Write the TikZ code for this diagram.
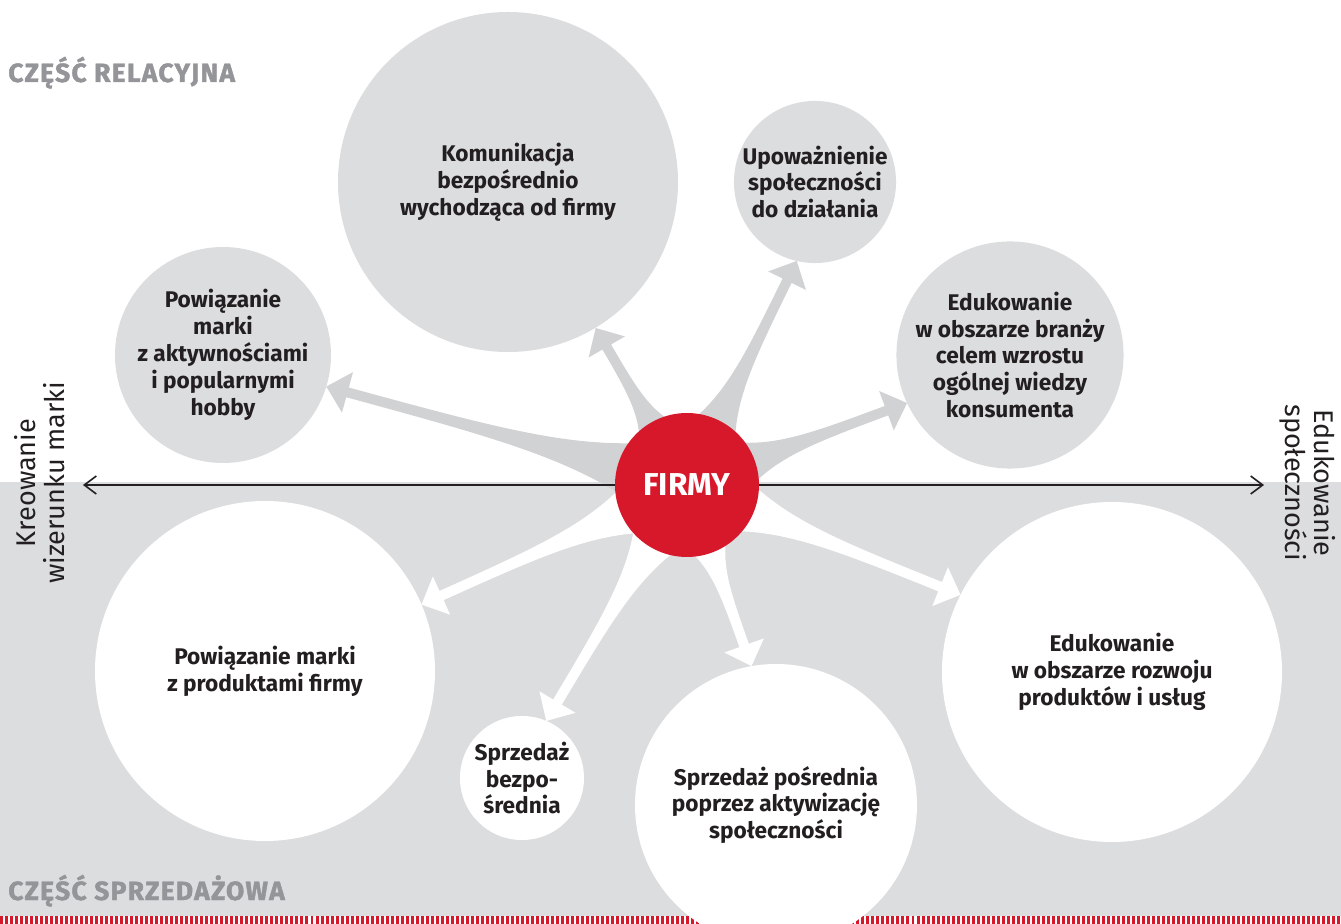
\documentclass[tikz,border=0pt]{standalone}
\usepackage{fontspec}
\setmainfont{Fira Sans}
\newfontfamily\titlefont{Fira Sans}[LetterSpace=5,BoldFeatures={FakeBold=1.6}]
\usepackage{tikz}
\usetikzlibrary{positioning,arrows.meta,calc}
\definecolor{brandRed}{HTML}{D7182A}
\definecolor{paleGray}{HTML}{DCDDDF}
\definecolor{wedgeGray}{HTML}{D1D2D4}
\definecolor{labelGray}{HTML}{939598}
\definecolor{inkBlack}{HTML}{231F20}

\pgfdeclarelayer{backdrop}
\pgfdeclarelayer{wedges}
\pgfsetlayers{backdrop,wedges,main}

% tapered arrow from the centre of #2 to the point #3, filled with #1
\newcommand{\wedgeArrow}[3]{%
  \coordinate (wedgeEnd) at (#3);
  \pgfpointdiff{\pgfpointanchor{#2}{center}}{\pgfpointanchor{wedgeEnd}{center}}%
  \pgfgetlastxy{\wedgeDx}{\wedgeDy}%
  \pgfmathsetmacro{\wedgeAngle}{atan2(\wedgeDy,\wedgeDx)}%
  \pgfmathsetmacro{\wedgeLen}{veclen(\wedgeDx,\wedgeDy)}%
  \pgfmathsetmacro{\wedgeNeck}{\wedgeLen-12.5}%
  \pgfmathsetmacro{\wedgeCa}{25.6+0.25*(\wedgeNeck-25.6)}%
  \pgfmathsetmacro{\wedgeCb}{25.6+0.5*(\wedgeNeck-25.6)}%
  \fill[#1, shift={(#2.center)}, rotate=\wedgeAngle]
    (25.6pt,18.2pt) .. controls (\wedgeCa pt,2.85pt) and (\wedgeCb pt,2.85pt) .. (\wedgeNeck pt,2.85pt)
    -- (\wedgeNeck pt,11.95pt) -- (\wedgeLen pt,0pt) -- (\wedgeNeck pt,-11.95pt)
    -- (\wedgeNeck pt,-2.85pt) .. controls (\wedgeCb pt,-2.85pt) and (\wedgeCa pt,-2.85pt) .. (25.6pt,-18.2pt)
    -- cycle;
}

\begin{document}
\begin{tikzpicture}[
        bubble/.style={circle, inner sep=0pt, outer sep=0pt, align=center, text=inkBlack, font=\bfseries\fontsize{12.9}{15.3}\selectfont},
        grayBubble/.style={bubble, fill=paleGray},
        whiteBubble/.style={bubble, fill=white},
        sectionTitle/.style={anchor=base west, inner sep=0pt, text=labelGray, font=\titlefont\bfseries\fontsize{15}{17}\selectfont},
        axisLabel/.style={align=center, text=inkBlack, font=\fontsize{15.4}{16.5}\selectfont},
        axisArrow/.style={{Straight Barb[length=2.4mm,width=3.6mm]}-{Straight Barb[length=2.4mm,width=3.6mm]}, line width=0.9pt, draw=inkBlack}
    ]
        \useasboundingbox (-13.74,-8.78) rectangle (13.08,9.70);

        % Backdrop: white upper half, grey lower half, striped bottom edge
        \begin{pgfonlayer}{backdrop}
            \fill[white] (-13.74,-8.78) rectangle (13.08,9.70);
            \fill[paleGray] (-13.74,0.06) rectangle (13.08,-8.78);
            \fill[white] (-13.74,-8.62) rectangle (13.08,-8.78);
            \draw[brandRed, line width=0.16cm, dash pattern=on 1.7pt off 1.15pt] (-13.74,-8.70) -- (13.08,-8.70);
        \end{pgfonlayer}

        % Section titles
        \node[sectionTitle] (relacyjna) at (-13.58,8.06) {CZĘŚĆ RELACYJNA};
        \node[sectionTitle] (sprzedazowa) at (-13.58,-8.30) {CZĘŚĆ SPRZEDAŻOWA};

        % Relational part
        \node[grayBubble, minimum size=6.8cm] (komunikacja) at (-3.58,6.06) {Komunikacja\\bezpośrednio\\wychodząca od firmy};
        \node[grayBubble, minimum size=3.24cm] (upowaznienie) at (2.56,6.06) {Upoważnienie\\społeczności\\do działania};
        \node[grayBubble, minimum size=4.32cm] (aktywnosci) at (-9.28,2.60) {Powiązanie\\marki\\z aktywnościami\\i popularnymi\\hobby};
        \node[grayBubble, minimum size=4.32cm] (branza) at (6.46,2.60) {Edukowanie\\w obszarze branży\\celem wzrostu\\ogólnej wiedzy\\konsumenta};

        % Sales part
        \node[whiteBubble, minimum size=6.8cm] (produkty) at (-8.44,-3.72) {Powiązanie marki\\z produktami firmy};
        \node[whiteBubble, minimum size=2.48cm] (bezposrednia) at (-3.30,-5.86) {Sprzedaż\\bezpo-\\średnia};
        \node[whiteBubble, minimum size=5.64cm] (posrednia) at (1.78,-6.40) {Sprzedaż pośrednia\\poprzez aktywizację\\społeczności};
        \node[whiteBubble, minimum size=6.8cm] (rozwoj) at (8.50,-3.74) {Edukowanie\\w obszarze rozwoju\\produktów i usług};

        % Hub
        \node[circle, fill=brandRed, minimum size=2.88cm, inner sep=0pt, text=white, font=\bfseries\fontsize{18}{20}\selectfont] (firmy) at (0,0) {FIRMY};

        % Axis labels
        \node[axisLabel, rotate=90] (kreowanie) at (-12.95,0.04) {Kreowanie\\wizerunku marki};
        \node[axisLabel, rotate=-90] (edukowanie) at (12.42,0.04) {Edukowanie\\społeczności};
        \coordinate (axisWest) at (-12.08,0);
        \coordinate (axisEast) at (11.54,0);

        \begin{pgfonlayer}{wedges}
            \wedgeArrow{wedgeGray}{firmy}{aktywnosci.343}
            \wedgeArrow{wedgeGray}{firmy}{komunikacja.301}
            \wedgeArrow{wedgeGray}{firmy}{upowaznienie.257}
            \wedgeArrow{wedgeGray}{firmy}{branza.205}
            \wedgeArrow{white}{firmy}{produkty.23}
            \wedgeArrow{white}{firmy}{bezposrednia.67}
            \wedgeArrow{white}{firmy}{posrednia.100}
            \wedgeArrow{white}{firmy}{rozwoj.153}
            \draw[axisArrow] (axisWest) -- (axisEast);
        \end{pgfonlayer}
    \end{tikzpicture}
\end{document}
